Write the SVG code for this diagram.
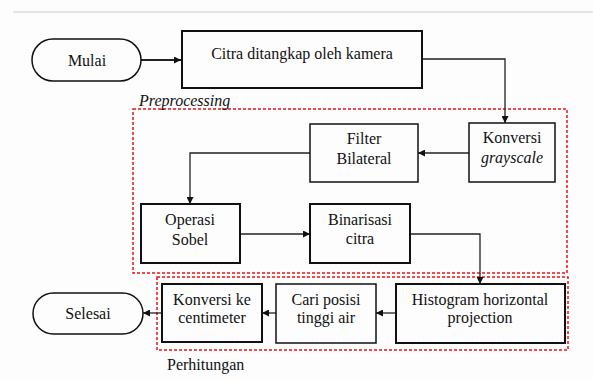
<svg xmlns="http://www.w3.org/2000/svg" width="593" height="381" viewBox="0 0 593 381" font-family="'Liberation Serif', 'Times New Roman', Times, serif" font-size="16">
<style>
  text { font-family: 'Liberation Serif', 'Times New Roman', Times, serif; fill: #111; text-anchor: middle; }
  .it { font-style: italic; }
  .box { fill: none; stroke: #111; stroke-width: 2; }
  .thin { stroke-width: 1.5; }
  .pill { fill: none; stroke: #111; stroke-width: 1.5; }
  .grp { fill: none; stroke: #ee1111; stroke-width: 1.5; stroke-dasharray: 3 2; }
  .conn { fill: none; stroke: #222; stroke-width: 1.3; marker-end: url(#ah); }
</style>
<defs>
  <marker id="ah" viewBox="0 0 10 10" refX="10" refY="5" markerWidth="7" markerHeight="7" markerUnits="userSpaceOnUse" orient="auto">
    <path d="M0,0 L10,5 L0,10 z" fill="#111"/>
  </marker>
</defs>
<rect width="593" height="381" fill="#fdfdfd"/>
<line x1="13" y1="12" x2="593" y2="12" stroke="#cccccc" stroke-width="1"/>

<g id="group-preprocessing">
  <rect class="grp" x="133" y="109" width="434" height="164"/>
  <text class="it" x="139" y="106" style="text-anchor:start">Preprocessing</text>
</g>
<g id="group-perhitungan">
  <rect class="grp" x="157" y="277" width="411" height="73"/>
  <text x="167" y="370" style="text-anchor:start">Perhitungan</text>
</g>

<g id="connectors">
  <path class="conn" d="M141,60 H181" style="stroke-width:2"/>
  <path class="conn" d="M422,59 H505 V123"/>
  <path class="conn" d="M469,153 H418"/>
  <path class="conn" d="M310,153 H190 V204"/>
  <path class="conn" d="M240,234 H310"/>
  <path class="conn" d="M410,234 H480 V284"/>
  <path class="conn" d="M396,313 H376"/>
  <path class="conn" d="M276,313 H262"/>
  <path class="conn" d="M162,313 H143"/>
</g>

<g id="mulai">
  <rect class="pill" x="32" y="39" width="109" height="42" rx="21" ry="21"/>
  <text x="87" y="66">Mulai</text>
</g>
<g id="citra">
  <rect class="box" x="182" y="31" width="240" height="57"/>
  <text x="302" y="59">Citra ditangkap oleh kamera</text>
</g>
<g id="konversi-grayscale">
  <rect class="box thin" x="469" y="123" width="86" height="59"/>
  <text x="512" y="143">Konversi</text>
  <text class="it" x="512" y="163">grayscale</text>
</g>
<g id="filter-bilateral">
  <rect class="box thin" x="310" y="124" width="108" height="58"/>
  <text x="364" y="144">Filter</text>
  <text x="364" y="164">Bilateral</text>
</g>
<g id="operasi-sobel">
  <rect class="box" x="141" y="204" width="99" height="59"/>
  <text x="190" y="225">Operasi</text>
  <text x="190" y="245">Sobel</text>
</g>
<g id="binarisasi">
  <rect class="box" x="310" y="204" width="100" height="59"/>
  <text x="360" y="225">Binarisasi</text>
  <text x="360" y="244">citra</text>
</g>
<g id="histogram">
  <rect class="box" x="396" y="284" width="169" height="59"/>
  <text x="480" y="305">Histogram horizontal</text>
  <text x="480" y="323">projection</text>
</g>
<g id="cari-posisi">
  <rect class="box thin" x="276" y="284" width="100" height="59"/>
  <text x="326" y="305">Cari posisi</text>
  <text x="326" y="323">tinggi air</text>
</g>
<g id="konversi-cm">
  <rect class="box" x="162" y="284" width="100" height="58"/>
  <text x="212" y="305">Konversi ke</text>
  <text x="212" y="323">centimeter</text>
</g>
<g id="selesai">
  <rect class="pill" x="33" y="293" width="110" height="41" rx="20.5" ry="20.5"/>
  <text x="88" y="319">Selesai</text>
</g>
</svg>
